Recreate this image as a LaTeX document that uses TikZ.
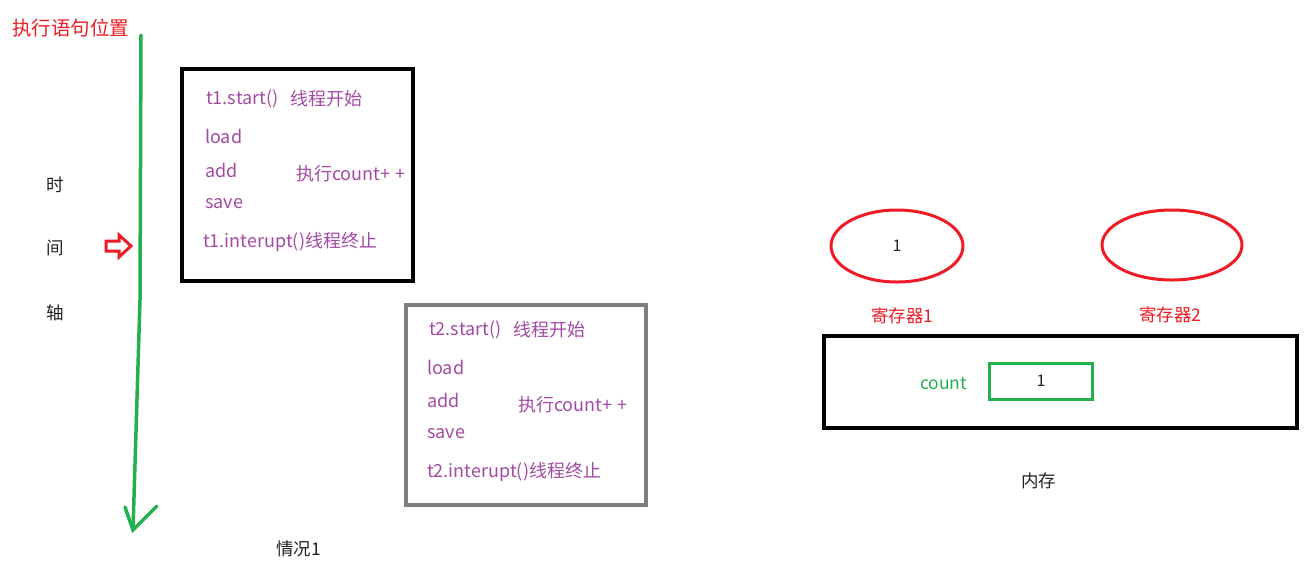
\documentclass[tikz,border=0pt]{standalone}
\usepackage{fontspec}
\setmainfont{Noto Sans CJK SC}
\usetikzlibrary{shapes.geometric}
\definecolor{pgreen}{HTML}{22B14C}
\definecolor{pred}{HTML}{ED1C24}
\definecolor{ppurple}{HTML}{A349A4}
\definecolor{pgray}{HTML}{7F7F7F}
\definecolor{dtext}{HTML}{222222}
\tikzset{
  txt/.style={inner sep=0pt, anchor=west, font=\fontsize{17.5}{19}\selectfont},
  ptxt/.style={txt, text=ppurple, font=\fontsize{18}{20}\selectfont},
  rtxt/.style={txt, text=pred},
  ktxt/.style={txt, text=dtext},
  blkbox/.style={draw=black, line width=4pt},
  graybox/.style={draw=pgray, line width=4pt},
  reg/.style={draw=pred, line width=3pt, ellipse, inner sep=0pt},
}
\begin{document}
\begin{tikzpicture}[x=1pt,y=-1pt]
\useasboundingbox (0,0) rectangle (1309,566);
% title
\node[rtxt, font=\fontsize{19.5}{21}\selectfont] (title) at (12,28) {执行语句位置};
% time axis
\coordinate (axtop) at (141,35);
\coordinate (axbot) at (133,530);
\draw[pgreen, line width=3.5pt, line cap=round] (axtop) -- (140,300) -- (axbot);
\draw[pgreen, line width=3.5pt, line cap=round] (125,507) -- (axbot) -- (157,506);
\node[ktxt] (shi) at (46,185) {时};
\node[ktxt] (jian) at (46,248) {间};
\node[ktxt] (zhou) at (46,313) {轴};
% red hollow arrow
\draw[pred, line width=3pt, line join=miter] (106,241) -- (119,241) -- (119,235) -- (131,246) -- (119,257) -- (119,251) -- (106,251) -- cycle;
% box 1
\draw[blkbox] (182,69) rectangle (413,281);
\node[ptxt] (s1) at (206,99) {t1.start()};
\node[ptxt] (s1c) at (290,99) {线程开始};
\node[ptxt] (l1) at (205,136) {load};
\node[ptxt] (a1) at (205,170) {add};
\node[ptxt] (v1) at (205,204) {save};
\node[ptxt] (c1) at (296,174) {执行count+\kern5pt+};
\node[ptxt] (i1) at (203,242) {t1.interupt()线程终止};
% box 2
\draw[graybox] (406,305) rectangle (646,505);
\node[ptxt] (s2) at (429,330) {t2.start()};
\node[ptxt] (s2c) at (513,330) {线程开始};
\node[ptxt] (l2) at (427,367) {load};
\node[ptxt] (a2) at (427,400) {add};
\node[ptxt] (v2) at (427,434) {save};
\node[ptxt] (c2) at (518,405) {执行count+\kern5pt+};
\node[ptxt] (i2) at (427,472) {t2.interupt()线程终止};
\node[ktxt] (case) at (276,549) {情况1};
% registers
\node[reg, minimum width=132pt, minimum height=72pt, font=\fontsize{16}{18}\selectfont, text=dtext] (r1) at (897,246) {1};
\node[reg, minimum width=140pt, minimum height=70pt] (r2) at (1172,245) {};
\node[rtxt] (r1l) at (871,316) {寄存器1};
\node[rtxt] (r2l) at (1139,315) {寄存器2};
% memory
\draw[blkbox] (824,336) rectangle (1297,428);
\node[txt, text=pgreen] (cnt) at (920,384) {count};
\node[draw=pgreen, line width=3pt, minimum width=103pt, minimum height=36pt, inner sep=0pt, font=\fontsize{16}{18}\selectfont, text=dtext] (cbox) at (1041,381) {1};
\node[ktxt] (mem) at (1021,481) {内存};
\end{tikzpicture}
\end{document}
